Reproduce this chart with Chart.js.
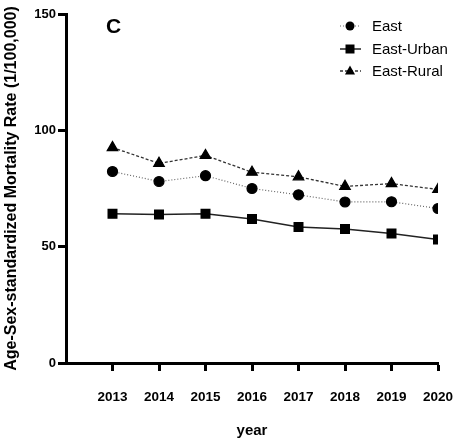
<!DOCTYPE html>
<html>
<head>
<meta charset="utf-8">
<script src="https://cdn.jsdelivr.net/npm/chart.js@4.4.0/dist/chart.umd.min.js"></script>
<style>
    html, body { margin: 0; padding: 0; background: #fff; }
    canvas { display: block; }
</style>
</head>
<body>
<canvas id="chart" width="457" height="444"></canvas>
<script>
const years = [2013, 2014, 2015, 2016, 2017, 2018, 2019, 2020];
const east = [82.3, 78.0, 80.5, 75.0, 72.3, 69.2, 69.3, 66.4];
const eastUrban = [64.1, 63.8, 64.1, 61.9, 58.5, 57.6, 55.7, 53.1];
const eastRural = [92.6, 85.8, 89.2, 82.0, 80.0, 75.9, 77.1, 74.6];
const yTicks = [0, 50, 100, 150];

const toPoints = (vals) => vals.map((v, i) => ({ x: years[i], y: v }));

const font = 'Liberation Sans, Arial, sans-serif';

// "C" panel letter and the line+marker legend
const extras = {
    id: 'extras',
    afterDraw: function (chart) {
        const ctx = chart.ctx;
        ctx.save();
        ctx.fillStyle = '#000';
        ctx.font = 'bold 21px ' + font;
        ctx.textBaseline = 'alphabetic';
        ctx.fillText('C', 106, 33);

        const rows = [26, 49, 71];
        chart.data.datasets.forEach((ds, i) => {
            const y = rows[i];
            ctx.strokeStyle = ds.borderColor;
            ctx.lineWidth = ds.borderWidth;
            ctx.setLineDash(ds.borderDash || []);
            ctx.beginPath();
            ctx.moveTo(340, y);
            ctx.lineTo(361, y);
            ctx.stroke();
            ctx.setLineDash([]);
            ctx.fillStyle = '#000';
            const r = 4.5;
            ctx.beginPath();
            if (ds.pointStyle === 'circle') {
                ctx.arc(350, y, r, 0, Math.PI * 2);
            } else if (ds.pointStyle === 'rect') {
                ctx.rect(350 - r, y - r, r * 2, r * 2);
            } else {
                ctx.moveTo(350, y - r - 1);
                ctx.lineTo(350 + r + 0.5, y + r - 1);
                ctx.lineTo(350 - r - 0.5, y + r - 1);
                ctx.closePath();
            }
            ctx.fill();
            ctx.font = '15px ' + font;
            ctx.textBaseline = 'middle';
            ctx.fillText(ds.label, 372, y + 1);
        });
        ctx.restore();
    }
};

new Chart(document.getElementById('chart'), {
    type: 'line',
    data: {
        datasets: [{
            label: 'East',
            data: toPoints(east),
            borderColor: '#666',
            borderWidth: 1.2,
            borderDash: [1, 2],
            pointStyle: 'circle',
            pointRadius: 5,
            pointBackgroundColor: '#000',
            pointBorderColor: '#000'
        }, {
            label: 'East-Urban',
            data: toPoints(eastUrban),
            borderColor: '#222',
            borderWidth: 1.5,
            pointStyle: 'rect',
            pointRadius: 6,
            pointBackgroundColor: '#000',
            pointBorderColor: '#000'
        }, {
            label: 'East-Rural',
            data: toPoints(eastRural),
            borderColor: '#333',
            borderWidth: 1.3,
            borderDash: [3, 2],
            pointStyle: 'triangle',
            pointRadius: 6,
            pointBackgroundColor: '#000',
            pointBorderColor: '#000'
        }]
    },
    options: {
        responsive: false,
        animation: false,
        devicePixelRatio: 1,
        layout: { padding: { top: 14, right: 19, left: 0, bottom: 0 } },
        plugins: {
            legend: { display: false },
            tooltip: { enabled: false }
        },
        scales: {
            x: {
                type: 'linear',
                min: 2012,
                max: 2020,
                afterBuildTicks: function (scale) {
                    scale.ticks = years.map(v => ({ value: v }));
                },
                afterFit: function (scale) {
                    scale.height = 81;
                    scale.paddingLeft = 0;
                    scale.paddingRight = 0;
                },
                grid: { drawOnChartArea: false, tickLength: 8, tickWidth: 3, tickColor: '#000' },
                border: { color: '#000', width: 3 },
                ticks: {
                    color: '#000',
                    padding: 18,
                    maxRotation: 0,
                    autoSkip: false,
                    font: { family: font, size: 13.5, weight: 'bold' },
                    callback: v => String(v)
                },
                title: {
                    display: true,
                    text: 'year',
                    color: '#000',
                    padding: { top: 14 },
                    font: { family: font, size: 15, weight: 'bold' }
                }
            },
            y: {
                min: 0,
                max: 150,
                afterBuildTicks: function (scale) {
                    scale.ticks = yTicks.map(v => ({ value: v }));
                },
                afterFit: function (scale) {
                    scale.width = 66;
                    scale.paddingTop = 0;
                    scale.paddingBottom = 0;
                },
                grid: { drawOnChartArea: false, tickLength: 8, tickWidth: 3, tickColor: '#000' },
                border: { color: '#000', width: 3 },
                ticks: {
                    color: '#000',
                    padding: 2,
                    autoSkip: false,
                    font: { family: font, size: 13, weight: 'bold' }
                },
                title: {
                    display: true,
                    text: 'Age-Sex-standardized Mortality Rate (1/100,000)',
                    color: '#000',
                    padding: { top: 2, bottom: 4 },
                    font: { family: font, size: 16, weight: 'bold' }
                }
            }
        }
    },
    plugins: [extras]
});
</script>
</body>
</html>
